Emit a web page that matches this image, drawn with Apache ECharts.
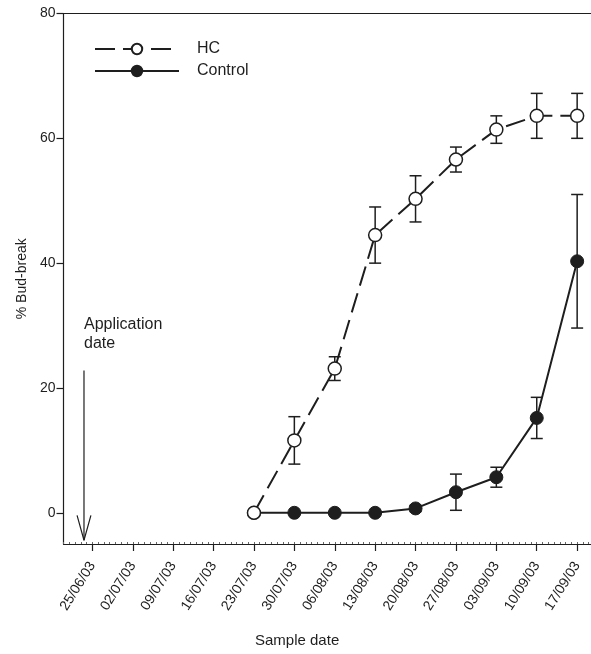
<!DOCTYPE html>
<html>
<head>
<meta charset="utf-8">
<script src="https://cdn.jsdelivr.net/npm/echarts@6/dist/echarts.min.js"></script>
<style>
html, body { margin: 0; padding: 0; background: #fff; }
#main { width: 591px; height: 654px; }
</style>
</head>
<body>
<div id="main"></div>
<script>
// days after 25/06/03
var tickDays = [0, 7, 14, 21, 28, 35, 42, 49, 56, 63, 70, 77, 84];
var tickLabels = ['25/06/03', '02/07/03', '09/07/03', '16/07/03', '23/07/03', '30/07/03', '06/08/03',
	'13/08/03', '20/08/03', '27/08/03', '03/09/03', '10/09/03', '17/09/03'];
var sampleDays = [28, 35, 42, 49, 56, 63, 70, 77, 84];
var hcMean = [0, 11.6, 23.1, 44.5, 50.3, 56.6, 61.4, 63.6, 63.6];
var hcErr = [0, 3.8, 1.9, 4.5, 3.7, 2.0, 2.2, 3.6, 3.6];
var ctrlMean = [0, 0, 0, 0, 0.7, 3.3, 5.7, 15.2, 40.3];
var ctrlErr = [0, 0, 0, 0, 0.5, 2.9, 1.6, 3.3, 10.7];
var yTicks = [0, 20, 40, 60, 80];
// application date arrow (day, %)
var appDay = -1.45;
var arrowTop = 22.8, arrowTip = -4.4, arrowWing = -0.4, wingHalf = 1.2;

var ink = '#1e1e1e';
var font = 'Liberation Sans, Arial, sans-serif';

function pairs(xs, ys) {
	return xs.map(function(x, i) { return [x, ys[i]]; });
}
function errData(xs, m, e) {
	return xs.map(function(x, i) { return [x, m[i] - e[i], m[i] + e[i]]; });
}
function errRender(params, api) {
	if (api.value(2) - api.value(1) <= 0) return;
	var lo = api.coord([api.value(0), api.value(1)]);
	var hi = api.coord([api.value(0), api.value(2)]);
	var w = 6;
	var st = { stroke: ink, lineWidth: 1.5 };
	return {
		type: 'group',
		children: [
			{ type: 'line', shape: { x1: lo[0], y1: lo[1], x2: hi[0], y2: hi[1] }, style: st },
			{ type: 'line', shape: { x1: lo[0] - w, y1: lo[1], x2: lo[0] + w, y2: lo[1] }, style: st },
			{ type: 'line', shape: { x1: hi[0] - w, y1: hi[1], x2: hi[0] + w, y2: hi[1] }, style: st }
		]
	};
}

var xMin = -5, xMax = 86.4;
var option = {
	animation: false,
	grid: { left: 63.5, right: 0, top: 13.5, bottom: 110 },
	legend: {
		left: 94,
		top: 41,
		padding: 0,
		orient: 'vertical',
		itemWidth: 84,
		itemHeight: 13,
		itemGap: 6,
		textStyle: { fontFamily: font, fontSize: 16, color: ink, padding: [0, 0, 0, 13] },
		data: ['HC', 'Control']
	},
	xAxis: [{
		type: 'value',
		min: xMin,
		max: xMax,
		axisLine: { onZero: false, lineStyle: { color: ink, width: 1.2 } },
		axisTick: { customValues: tickDays, length: 7, lineStyle: { color: ink, width: 1.2 } },
		axisLabel: {
			customValues: tickDays,
			rotate: 58,
			fontFamily: font,
			fontSize: 14,
			color: ink,
			margin: 19,
			formatter: function(v) { return tickLabels[tickDays.indexOf(v)]; }
		},
		splitLine: { show: false }
	}, {
		type: 'value',
		min: xMin,
		max: xMax,
		position: 'bottom',
		interval: 1,
		axisLine: { show: false, onZero: false },
		axisTick: { inside: true, length: 2, lineStyle: { color: '#666', width: 1 } },
		axisLabel: { show: false },
		splitLine: { show: false }
	}, {
		type: 'value',
		min: xMin,
		max: xMax,
		position: 'top',
		axisLine: { onZero: false, lineStyle: { color: ink, width: 1.2 } },
		axisTick: { show: false },
		axisLabel: { show: false },
		splitLine: { show: false }
	}],
	yAxis: {
		type: 'value',
		min: -5,
		max: 80,
		name: '% Bud-break',
		nameLocation: 'middle',
		nameGap: 31,
		nameTextStyle: { fontFamily: font, fontSize: 14, color: ink },
		axisLine: { show: true, onZero: false, lineStyle: { color: ink, width: 1.2 } },
		axisTick: { show: true, customValues: yTicks, length: 7, lineStyle: { color: ink, width: 1.2 } },
		axisLabel: { customValues: yTicks, fontFamily: font, fontSize: 14, color: ink, margin: 8 },
		splitLine: { show: false }
	},
	graphic: [{
		type: 'text',
		left: 84,
		top: 315,
		style: { text: 'Application\ndate', fontFamily: font, fontSize: 16, fill: ink, lineHeight: 19 }
	}, {
		type: 'text',
		left: 255,
		top: 633,
		style: { text: 'Sample date', fontFamily: font, fontSize: 15, fill: ink }
	}],
	series: [{
		type: 'custom',
		name: 'hcErr',
		renderItem: errRender,
		data: errData(sampleDays, hcMean, hcErr),
		z: 1
	}, {
		type: 'custom',
		name: 'ctrlErr',
		renderItem: errRender,
		data: errData(sampleDays, ctrlMean, ctrlErr),
		z: 1
	}, {
		type: 'line',
		name: 'Control',
		data: pairs(sampleDays, ctrlMean),
		symbol: 'circle',
		symbolSize: 13,
		lineStyle: { color: ink, width: 2 },
		itemStyle: { color: ink, borderColor: ink, borderWidth: 1 },
		z: 3
	}, {
		type: 'line',
		name: 'HC',
		data: pairs(sampleDays, hcMean),
		symbol: 'circle',
		symbolSize: 13,
		lineStyle: { color: ink, width: 2, type: [20, 8] },
		itemStyle: { color: '#fff', borderColor: ink, borderWidth: 1.5 },
		z: 4
	}, {
		type: 'line',
		name: 'arrow',
		data: [[appDay, arrowTop], [appDay, arrowTip]],
		symbol: 'none',
		lineStyle: { color: ink, width: 1.2 },
		silent: true
	}, {
		type: 'line',
		name: 'arrowHead',
		data: [[appDay - wingHalf, arrowWing], [appDay, arrowTip], [appDay + wingHalf, arrowWing]],
		symbol: 'none',
		lineStyle: { color: ink, width: 1.2 },
		silent: true
	}]
};

var my = echarts.init(document.getElementById('main'));
my.setOption(option);
</script>
</body>
</html>
